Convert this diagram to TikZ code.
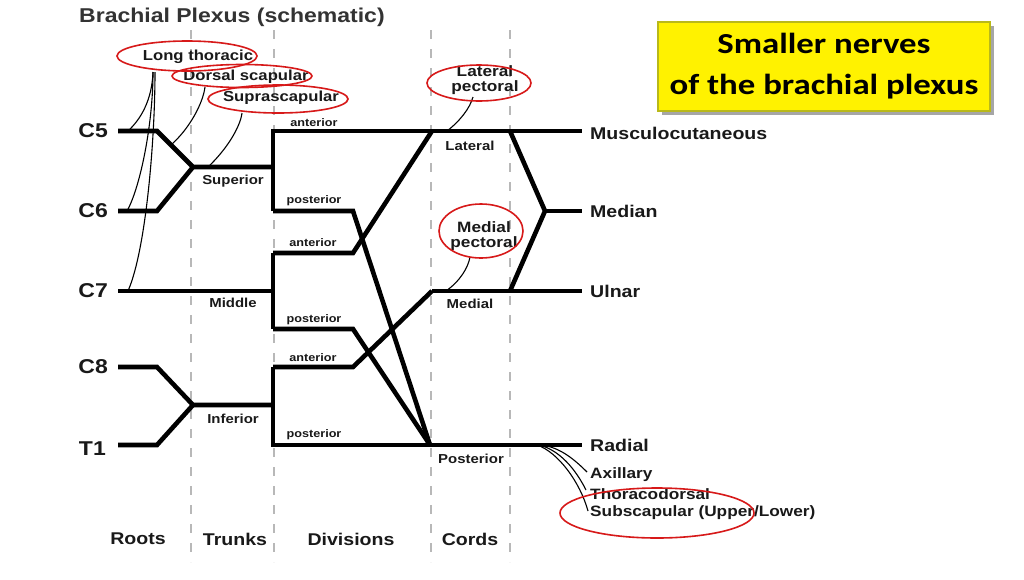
\documentclass[tikz,border=0pt]{standalone}
\usepackage{fontspec}
\setmainfont{Liberation Sans}[FakeStretch=1.15]
\newfontfamily\calib{Carlito}[FakeStretch=1.2]
\definecolor{boxedge}{RGB}{185,185,25}
\definecolor{ellred}{RGB}{215,25,25}
\begin{document}
\begin{tikzpicture}[x=1pt,y=-1pt,
  nv/.style={line width=4.6pt,line join=miter,line cap=butt},
  br/.style={line width=1.1pt},
  ell/.style={draw=ellred,line width=1.6pt},
  sep/.style={draw=black!28,line width=1.6pt,dash pattern=on 9pt off 10pt},
  fs/.style={font=\fontsize{#1}{#1}\selectfont\bfseries},
  lbl/.style={inner sep=0pt,text=black!90,fs=#1},
]
\useasboundingbox (0,0) rectangle (1024,579);
\fill[white] (0,0) rectangle (1024,579);

% title
\node[lbl=20,anchor=west,text=black!80] (title) at (79,17) {Brachial Plexus (schematic)};

% separators
\foreach \x in {191,274,431,510} \draw[sep] (\x,30) -- (\x,562);

% yellow box
\fill[black!35] (662,26) rectangle (994,115);
\node[draw=boxedge,line width=1.6pt,fill=yellow,minimum width=332pt,minimum height=89pt,
      inner sep=0pt,align=center,font=\calib\fontsize{29}{41}\selectfont\bfseries] (box) at (824,66.5)
      {Smaller nerves\\of the brachial plexus};

% root labels
\node[lbl=20,anchor=east] (C5) at (108,131) {C5};
\node[lbl=20,anchor=east] (C6) at (108,211) {C6};
\node[lbl=20,anchor=east] (C7) at (108,291) {C7};
\node[lbl=20,anchor=east] (C8) at (108,367) {C8};
\node[lbl=20,anchor=east] (T1) at (106,449) {T1};

% junction coordinates
\coordinate (c5a) at (118,131);
\coordinate (c6a) at (118,211);
\coordinate (c7a) at (118,291);
\coordinate (c8a) at (118,367);
\coordinate (t1a) at (118,445);
\coordinate (c5b) at (157,131);
\coordinate (c6b) at (157,211);
\coordinate (sup) at (193,167);
\coordinate (supE) at (273,167);
\coordinate (supA) at (273,131);
\coordinate (supP) at (273,211);
\coordinate (supPb) at (353,211);
\coordinate (midE) at (273,291);
\coordinate (midA) at (273,253);
\coordinate (midAb) at (353,253);
\coordinate (midP) at (273,329);
\coordinate (midPb) at (353,329);
\coordinate (c8b) at (157,367);
\coordinate (t1b) at (157,445);
\coordinate (inf) at (193,405);
\coordinate (infE) at (273,405);
\coordinate (infA) at (273,367);
\coordinate (infAb) at (353,367);
\coordinate (infP) at (273,445);
\coordinate (lat) at (432,131);
\coordinate (latb) at (510,131);
\coordinate (med) at (432,291);
\coordinate (medb) at (510,291);
\coordinate (pc) at (430,445);
\coordinate (mj) at (545,211);
\coordinate (musE) at (582,131);
\coordinate (medE) at (582,211);
\coordinate (ulnE) at (582,291);
\coordinate (radE) at (582,445);

% terminal labels
\node[lbl=17,anchor=west] (mus) at (590,133) {Musculocutaneous};
\node[lbl=17,anchor=west] (medn) at (590,211) {Median};
\node[lbl=17,anchor=west] (uln) at (590,291) {Ulnar};
\node[lbl=17,anchor=west] (rad) at (590,445) {Radial};

% thick nerves
\draw[nv] (c5a) -- (c5b) -- (sup) -- (supE);
\draw[nv] (c6a) -- (c6b) -- (sup);
\draw[nv] (c7a) -- (midE);
\draw[nv] (c8a) -- (c8b) -- (inf) -- (infE);
\draw[nv] (t1a) -- (t1b) -- (inf);
\draw[nv] (supP) -- (supA) -- (musE);
\draw[nv] (supP) -- (supPb) -- (pc);
\draw[nv] (midA) -- (midP);
\draw[nv] (midA) -- (midAb) -- (lat);
\draw[nv] (midP) -- (midPb) -- (pc);
\draw[nv] (infA) -- (infP) -- (radE);
\draw[nv] (infA) -- (infAb) -- (med);
\draw[nv] (latb) -- (mj) -- (medb);
\draw[nv] (mj) -- (medE);
\draw[nv] (med) -- (ulnE);

% small labels
\node[lbl=11] (a1) at (314,123) {anterior};
\node[lbl=11] (p1) at (314,201) {posterior};
\node[lbl=11] (a2) at (313,243) {anterior};
\node[lbl=11] (p2) at (314,320) {posterior};
\node[lbl=11] (a3) at (313,358) {anterior};
\node[lbl=11] (p3) at (314,435) {posterior};
\node[lbl=13] (supl) at (233,181) {Superior};
\node[lbl=13] (midl) at (233,303) {Middle};
\node[lbl=13] (infl) at (233,419) {Inferior};
\node[lbl=13] (latl) at (470,146) {Lateral};
\node[lbl=13] (medl) at (470,304) {Medial};
\node[lbl=13] (postl) at (471,459) {Posterior};

% bottom labels
\node[lbl=17] (roots) at (138,539) {Roots};
\node[lbl=17] (trunks) at (235,539) {Trunks};
\node[lbl=17] (divs) at (351,539) {Divisions};
\node[lbl=17] (cords) at (470,539) {Cords};

% top small nerves
\node[lbl=14.5] (LT) at (198,57) {Long thoracic};
\node[lbl=14.5] (DS) at (246,77) {Dorsal scapular};
\node[lbl=14.5] (SS) at (281,98) {Suprascapular};
\coordinate (ltb) at (153,72);
\coordinate (dsb) at (205,87);
\coordinate (ssb) at (242,113);
\draw[br] (128,131) .. controls (141,119) and (152,100) .. (ltb);
\draw[br] (127,211) .. controls (140,188) and (153,125) .. (ltb);
\draw[br] (128,291) .. controls (146,250) and (155,140) .. ([xshift=2pt]ltb);
\draw[br] (171,145) .. controls (190,128) and (203,103) .. (dsb);
\draw[br] (208,167) .. controls (226,150) and (240,128) .. (ssb);
\draw[ell] (187,56) ellipse [x radius=70pt, y radius=15pt];
\draw[ell] (242,76) ellipse [x radius=70pt, y radius=11.5pt];
\draw[ell] (278,99) ellipse [x radius=70pt, y radius=14pt];

% pectoral nerves
\node[lbl=15,align=center,font=\fontsize{15}{15}\selectfont\bfseries] (LP) at (485,80) {Lateral\\pectoral};
\node[lbl=15,align=center,font=\fontsize{15}{15}\selectfont\bfseries] (MP) at (484,236) {Medial\\pectoral};
\draw[br] (447,131) .. controls (460,121) and (470,108) .. (473,97);
\draw[br] (446,291) .. controls (460,281) and (468,268) .. (470,257);
\draw[ell] (479,83) ellipse [x radius=52pt, y radius=18pt];
\draw[ell] (481,231) ellipse [x radius=42pt, y radius=27pt];

% posterior cord branches
\node[lbl=15,anchor=west] (ax) at (590,475) {Axillary};
\node[lbl=15,anchor=west] (th) at (590,494) {Thoracodorsal};
\node[lbl=15,anchor=west] (sub) at (590,513) {Subscapular (Upper/Lower)};
\draw[br] (541,445) .. controls (560,447) and (575,460) .. ([xshift=-3pt,yshift=3pt]ax.west);
\draw[br] (539,445) .. controls (560,450) and (576,470) .. ([xshift=-4pt,yshift=4pt]th.west);
\draw[br] (537,445) .. controls (558,452) and (580,482) .. ([xshift=-2pt,yshift=2pt]sub.west);
\draw[ell] (657,513) ellipse [x radius=97pt, y radius=25pt];
\end{tikzpicture}
\end{document}
